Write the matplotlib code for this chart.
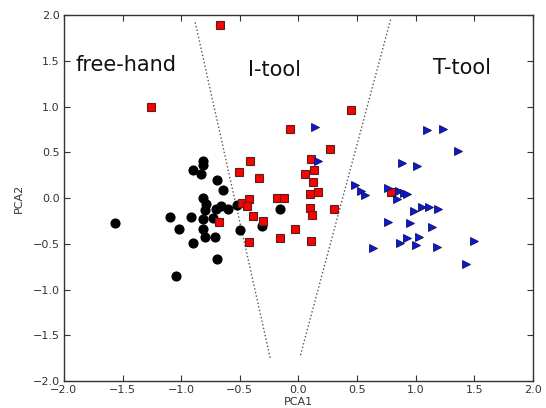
import matplotlib
matplotlib.use("Agg")
import matplotlib.pyplot as plt

free_x = [-1.564, -0.81, -0.81, -0.90, -0.83, -0.69, -0.647, -0.815, -0.79, -0.80,
          -0.70, -0.66, -0.60, -0.52, -1.094, -0.92, -0.815, -0.73, -1.02, -0.815,
          -0.50, -0.31, -0.16, -0.895, -0.80, -0.71, -0.69, -1.045]
free_y = [-0.27, 0.40, 0.36, 0.31, 0.26, 0.20, 0.087, 0.003, -0.066, -0.13,
          -0.12, -0.09, -0.12, -0.08, -0.21, -0.21, -0.23, -0.22, -0.34, -0.34,
          -0.35, -0.30, -0.12, -0.49, -0.43, -0.43, -0.67, -0.85]

itool_x = [-1.256, -0.67, 0.45, -0.068, 0.27, -0.41, 0.11, 0.13, -0.51, 0.06,
           -0.34, 0.125, 0.10, 0.17, -0.18, -0.12, -0.48, -0.42, -0.44, 0.10,
           0.12, 0.30, -0.39, -0.305, -0.68, -0.03, -0.16, 0.11, -0.42, 0.79]
itool_y = [0.995, 1.89, 0.96, 0.75, 0.54, 0.40, 0.43, 0.31, 0.29, 0.26,
           0.22, 0.175, 0.047, 0.065, -0.003, 0.003, -0.05, -0.014, -0.09, -0.11,
           -0.19, -0.12, -0.20, -0.25, -0.26, -0.34, -0.44, -0.47, -0.48, 0.07]

ttool_x = [1.10, 1.235, 1.36, 0.88, 1.01, 0.48, 0.53, 0.57, 0.76, 0.86,
           0.90, 0.93, 0.84, 0.99, 1.05, 1.11, 1.19, 0.76, 0.95, 1.14,
           0.87, 0.93, 1.03, 1.00, 1.185, 1.50, 0.64, 1.43, 0.14, 0.17]
ttool_y = [0.74, 0.75, 0.51, 0.38, 0.35, 0.14, 0.08, 0.03, 0.11, 0.08,
           0.06, 0.04, -0.01, -0.14, -0.10, -0.095, -0.12, -0.26, -0.27, -0.32,
           -0.49, -0.44, -0.42, -0.51, -0.53, -0.47, -0.55, -0.72, 0.78, 0.40]

left_line_x = [-0.88, -0.24]
left_line_y = [1.92, -1.75]
right_line_x = [0.786, 0.017]
right_line_y = [1.95, -1.72]

region_labels = ["free-hand", "I-tool", "T-tool"]
label_x = [-1.9, -0.43, 1.15]
label_y = [1.45, 1.40, 1.42]

ticks = [-2.0, -1.5, -1.0, -0.5, 0.0, 0.5, 1.0, 1.5, 2.0]

fig = plt.figure(figsize=(5.46, 4.08), dpi=100)
ax = fig.add_axes([0.117, 0.066, 0.859, 0.897])

ax.plot(left_line_x, left_line_y, linestyle=":", color="#555555", linewidth=1.0)
ax.plot(right_line_x, right_line_y, linestyle=":", color="#555555", linewidth=1.0)

ax.plot(free_x, free_y, "o", color="black", markersize=6.3, markeredgecolor="black")
ax.plot(itool_x, itool_y, "s", color="red", markersize=5.8, markeredgecolor="#552222", markeredgewidth=0.8)
ax.plot(ttool_x, ttool_y, ">", color="#0a1acc", markersize=6.0, markeredgecolor="#101060", markeredgewidth=0.6)

for t, x, y in zip(region_labels, label_x, label_y):
    ax.text(x, y, t, fontsize=15, va="center", ha="left", color="#111111")

ax.set_xlim(-2.0, 2.0)
ax.set_ylim(-2.0, 2.0)
ax.set_xticks(ticks)
ax.set_yticks(ticks)
ax.set_xticklabels([f"{t:.1f}".replace("-", "\u2212") for t in ticks])
ax.set_yticklabels([f"{t:.1f}".replace("-", "\u2212") for t in ticks])
ax.tick_params(direction="in", top=True, right=True, labelsize=8, colors="#333333",
               length=4, width=0.8, pad=3)
for sp in ax.spines.values():
    sp.set_color("#333333")
    sp.set_linewidth(1.0)
ax.set_xlabel("PCA1", fontsize=8, color="#333333", labelpad=1)
ax.set_ylabel("PCA2", fontsize=8, color="#333333", labelpad=6)

fig.savefig("out.png", dpi=100)
